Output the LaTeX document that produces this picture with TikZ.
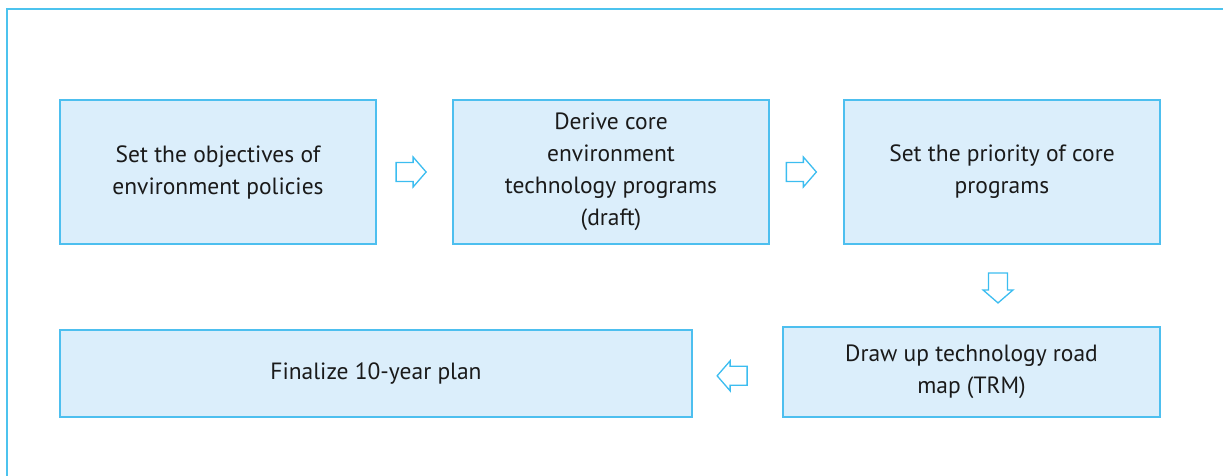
\documentclass[tikz,border=0pt]{standalone}
\usepackage{fontspec}
\setmainfont{PT Sans}
\usetikzlibrary{calc}
\definecolor{frameblue}{HTML}{4CC3EE}
\definecolor{boxfill}{HTML}{DBEEFB}
\definecolor{boxline}{HTML}{4DBFEF}
\definecolor{arrowblue}{HTML}{3CBDF0}
\definecolor{inkgrey}{HTML}{1A1A1A}
\tikzset{
  stepbox/.style={draw=boxline, line width=1.5pt, fill=boxfill, inner sep=0pt,
    align=center, text=inkgrey, font=\fontsize{23.5}{32}\selectfont},
  blockarrow/.pic={
    \draw[draw=arrowblue, line width=1.3pt, fill=white, line join=miter]
      (-15,-9.5) -- (2,-9.5) -- (2,-15) -- (15,0) -- (2,15) -- (2,9.5) -- (-15,9.5) -- cycle;
  }
}
\begin{document}
\begin{tikzpicture}[x=1pt, y=-1pt]
\useasboundingbox (0,0) rectangle (1223,476);
% outer frame (top and left edges run off the page)
\draw[frameblue, line width=2pt] (1230,9) -- (7,9) -- (7,490);

% process steps
\node[stepbox, minimum width=316pt, minimum height=144pt] (b1) at (218,172)
  {Set the objectives of\\environment policies};
\node[stepbox, minimum width=316pt, minimum height=144pt] (b2) at (611,172)
  {Derive core\\environment\\technology programs\\(draft)};
\node[stepbox, minimum width=316pt, minimum height=144pt] (b3) at (1002,172)
  {Set the priority of core\\programs};
\node[stepbox, minimum width=377pt, minimum height=90pt] (b4) at (971.5,372)
  {Draw up technology road\\map (TRM)};
\node[stepbox, minimum width=632pt, minimum height=87pt] (b5) at (376,373.5)
  {Finalize 10-year plan};

% block arrows between the steps
\coordinate (a1) at ($(b1.east)!0.455!(b2.west)$);
\coordinate (a2) at ($(b2.east)!0.43!(b3.west)$);
\coordinate (a3) at ($(b3.south)!0.53!(b3.south|-b4.north) + (-4,0)$);
\coordinate (a4) at ($(b4.west)!0.56!(b5.east) + (0,3)$);
\pic at (a1) {blockarrow};
\pic at (a2) {blockarrow};
\pic[rotate=-90] at (a3) {blockarrow};
\pic[rotate=180] at (a4) {blockarrow};
\end{tikzpicture}
\end{document}
